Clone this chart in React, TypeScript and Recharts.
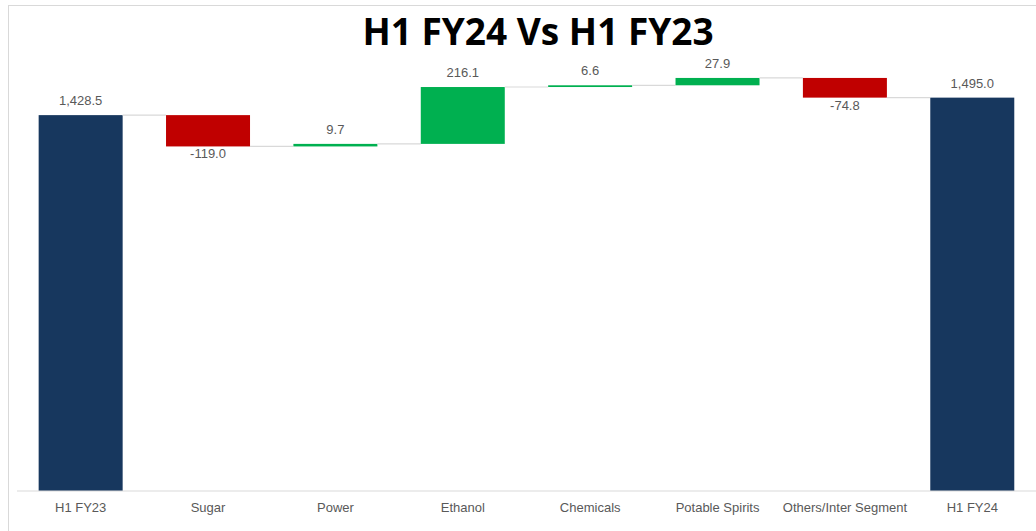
import { BarChart, Bar, XAxis, YAxis, Cell, LabelList } from "recharts"

const categories = ["H1 FY23", "Sugar", "Power", "Ethanol", "Chemicals", "Potable Spirits", "Others/Inter Segment", "H1 FY24"]
const changes = [1428.5, -119.0, 9.7, 216.1, 6.6, 27.9, -74.8, 1495.0]
const isTotal = [true, false, false, false, false, false, false, true]

const NAVY = "#17375e"
const RED = "#c00000"
const GREEN = "#00b050"
const GAP = 0.17

// build the floating base + visible part for the waterfall
let running = 0
const data = categories.map((name, i) => {
  const v = changes[i]
  let base = 0
  if (isTotal[i]) {
    running = v
  } else {
    base = v >= 0 ? running : running + v
    running = running + v
  }
  return {
    name,
    base,
    value: Math.abs(v),
    change: v,
    total: isTotal[i],
    color: isTotal[i] ? NAVY : v >= 0 ? GREEN : RED,
  }
})

const fmt = (v: number) =>
  v.toLocaleString("en-US", { minimumFractionDigits: 1, maximumFractionDigits: 1 })

function StepBar(props: any) {
  const { x, y, width, height, index, payload } = props
  const last = index === data.length - 1
  const lineY = payload.total || payload.change >= 0 ? y : y + height
  const gap = (width * 2 * GAP) / (1 - 2 * GAP)
  return (
    <g>
      <rect x={x} y={y} width={width} height={Math.max(height, 1.5)} fill={payload.color} />
      {!last && (
        <line x1={x + width} x2={x + width + gap} y1={lineY} y2={lineY} stroke="#d9d9d9" strokeWidth={1.2} />
      )}
    </g>
  )
}

function ValueLabel(props: any) {
  const { x, y, width, height, index } = props
  const d = data[index]
  const neg = d.change < 0
  const ty = neg ? y + height + 12 : y - 10
  return (
    <text
      x={x + width / 2}
      y={ty}
      textAnchor="middle"
      fontSize={13}
      fill="#595959"
      fontFamily="'Liberation Sans Narrow', 'Liberation Sans', sans-serif"
    >
      {fmt(d.change)}
    </text>
  )
}

export default function App() {
  return (
    <div
      style={{
        position: "absolute",
        top: 5,
        left: 8,
        width: 1028,
        height: 526,
        borderTop: "1px solid #d9d9d9",
        borderLeft: "1px solid #d9d9d9",
        background: "#fff",
      }}
    >
      <div
        style={{
          position: "absolute",
          top: 3,
          left: 0,
          width: 1058,
          textAlign: "center",
          fontFamily: "'Open Sans', sans-serif",
          fontWeight: 700,
          fontSize: 37,
          color: "#000",
          lineHeight: "44px",
        }}
      >
        H1 FY24 Vs H1 FY23
      </div>
      <BarChart
        width={1027}
        height={525}
        data={data}
        margin={{ top: 64, right: 0, bottom: 10, left: 8 }}
        barCategoryGap={`${GAP * 100}%`}
      >
        <XAxis
          dataKey="name"
          axisLine={{ stroke: "#d9d9d9", strokeWidth: 1.2 }}
          tickLine={false}
          tickSize={10}
          height={30}
          interval={0}
          tick={{
            fontSize: 13,
            fill: "#595959",
            fontFamily: "'Liberation Sans Narrow', 'Liberation Sans', sans-serif",
          }}
        />
        <YAxis hide domain={[0, 1600]} />
        <Bar dataKey="base" stackId="w" fill="transparent" isAnimationActive={false} />
        <Bar dataKey="value" stackId="w" isAnimationActive={false} shape={StepBar}>
          {data.map((d, i) => (
            <Cell key={i} fill={d.color} />
          ))}
          <LabelList dataKey="value" content={ValueLabel} />
        </Bar>
      </BarChart>
    </div>
  )
}
